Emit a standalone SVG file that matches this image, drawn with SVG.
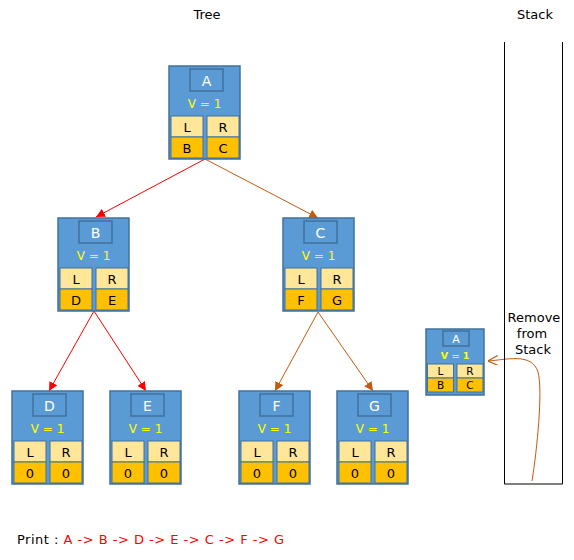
<svg xmlns="http://www.w3.org/2000/svg" width="574" height="560" viewBox="0 0 574 560">
<defs>
<style>
text{font-family:"DejaVu Sans","Verdana",sans-serif;}
.frame{fill:#5B9BD5;stroke:#41719C;stroke-width:1.5;}
.tbox{fill:none;stroke:#41719C;stroke-width:1.5;}
.t{fill:#FFFFFF;font-size:14px;text-anchor:middle;}
.v{fill:#FFFF00;font-size:12px;text-anchor:middle;}
.lc{fill:#FFE699;stroke:#41719C;stroke-width:1;}
.dc{fill:#FFC000;stroke:#41719C;stroke-width:1;}
.ct{fill:#000000;font-size:13px;text-anchor:middle;}
.lbl{fill:#000000;font-size:13px;text-anchor:middle;}
.red{stroke:#FF0000;stroke-width:1;fill:none;}
.org{stroke:#C55A11;stroke-width:1;fill:none;}
</style>
<marker id="ar" viewBox="0 0 10 10" refX="10" refY="5" markerWidth="9" markerHeight="9" markerUnits="userSpaceOnUse" orient="auto"><path d="M0,0 L10,5 L0,10 z" fill="#FF0000"/></marker>
<marker id="ao" viewBox="0 0 10 10" refX="10" refY="5" markerWidth="9" markerHeight="9" markerUnits="userSpaceOnUse" orient="auto"><path d="M0,0 L10,5 L0,10 z" fill="#C55A11"/></marker>
<marker id="aopen" viewBox="0 0 10 10" refX="10" refY="5" markerWidth="10" markerHeight="10" markerUnits="userSpaceOnUse" orient="auto"><path d="M0,0 L10,5 L0,10" fill="none" stroke="#C55A11" stroke-width="1.2"/></marker>
<g id="node">
<rect class="frame" x="0" y="0" width="71" height="93"/>
<rect class="tbox" x="21" y="3" width="33" height="22"/>
<text class="v" x="35.5" y="42">V = 1</text>
<rect class="lc" x="2" y="50" width="32" height="21"/>
<rect class="lc" x="38" y="50" width="32" height="21"/>
<rect class="dc" x="2" y="71" width="32" height="21"/>
<rect class="dc" x="38" y="71" width="32" height="21"/>
<text class="ct" x="18" y="65.5">L</text>
<text class="ct" x="54" y="65.5">R</text>
</g>
</defs>

<text class="lbl" x="207" y="19">Tree</text>
<text class="lbl" x="535" y="19">Stack</text>

<g id="connectors">
<line class="red" x1="205" y1="159" x2="96" y2="217" marker-end="url(#ar)"/>
<line class="org" x1="205" y1="159" x2="318" y2="218" marker-end="url(#ao)"/>
<line class="red" x1="94" y1="311" x2="49" y2="391" marker-end="url(#ar)"/>
<line class="red" x1="94" y1="311" x2="146" y2="391" marker-end="url(#ar)"/>
<line class="org" x1="318" y1="312" x2="275" y2="391" marker-end="url(#ao)"/>
<line class="org" x1="318" y1="312" x2="373" y2="391" marker-end="url(#ao)"/>
<path class="org" d="M532,481 C537,450 543,390 538,372 C532,352 505,360 488,361" marker-end="url(#aopen)"/>
</g>

<g id="nA" transform="translate(169,66)"><use href="#node"/><text class="t" x="37.5" y="19.5">A</text><text class="ct" x="18" y="86.5">B</text><text class="ct" x="54" y="86.5">C</text></g>
<g id="nB" transform="translate(58,218)"><use href="#node"/><text class="t" x="37.5" y="19.5">B</text><text class="ct" x="18" y="86.5">D</text><text class="ct" x="54" y="86.5">E</text></g>
<g id="nC" transform="translate(283,218)"><use href="#node"/><text class="t" x="37.5" y="19.5">C</text><text class="ct" x="18" y="86.5">F</text><text class="ct" x="54" y="86.5">G</text></g>
<g id="nD" transform="translate(12,391)"><use href="#node"/><text class="t" x="37.5" y="19.5">D</text><text class="ct" x="18" y="86.5">0</text><text class="ct" x="54" y="86.5">0</text></g>
<g id="nE" transform="translate(110,391)"><use href="#node"/><text class="t" x="37.5" y="19.5">E</text><text class="ct" x="18" y="86.5">0</text><text class="ct" x="54" y="86.5">0</text></g>
<g id="nF" transform="translate(239,391)"><use href="#node"/><text class="t" x="37.5" y="19.5">F</text><text class="ct" x="18" y="86.5">0</text><text class="ct" x="54" y="86.5">0</text></g>
<g id="nG" transform="translate(337,391)"><use href="#node"/><text class="t" x="37.5" y="19.5">G</text><text class="ct" x="18" y="86.5">0</text><text class="ct" x="54" y="86.5">0</text></g>

<g id="stack">
<path d="M504.5,42 V484 H562.5 V42" fill="none" stroke="#000000" stroke-width="1"/>
<text class="lbl" x="534" y="322">Remove</text>
<text class="lbl" x="532" y="338">from</text>
<text class="lbl" x="533" y="354">Stack</text>
</g>

<g id="nA2" transform="translate(426,329)">
<rect class="frame" x="0" y="0" width="58" height="66"/>
<rect class="tbox" x="17" y="2" width="26" height="15"/>
<text fill="#FFFFFF" font-size="11" text-anchor="middle" x="30" y="14">A</text>
<text fill="#FFFF00" font-size="9.5" font-weight="bold" text-anchor="middle" x="29" y="30">V = 1</text>
<rect class="lc" x="1.5" y="35" width="26" height="14"/>
<rect class="lc" x="31" y="35" width="26" height="14"/>
<rect class="dc" x="1.5" y="49" width="26" height="14"/>
<rect class="dc" x="31" y="49" width="26" height="14"/>
<text fill="#000" font-size="10.5" text-anchor="middle" x="14.5" y="46">L</text>
<text fill="#000" font-size="10.5" text-anchor="middle" x="44" y="46">R</text>
<text fill="#000" font-size="10.5" text-anchor="middle" x="14.5" y="60">B</text>
<text fill="#000" font-size="10.5" text-anchor="middle" x="44" y="60">C</text>
</g>

<text x="17" y="544" font-size="13" fill="#000000" textLength="267" lengthAdjust="spacing">Print : <tspan fill="#FF0000">A -&gt; B -&gt; D -&gt; E -&gt; C -&gt; F -&gt; G</tspan></text>
</svg>
